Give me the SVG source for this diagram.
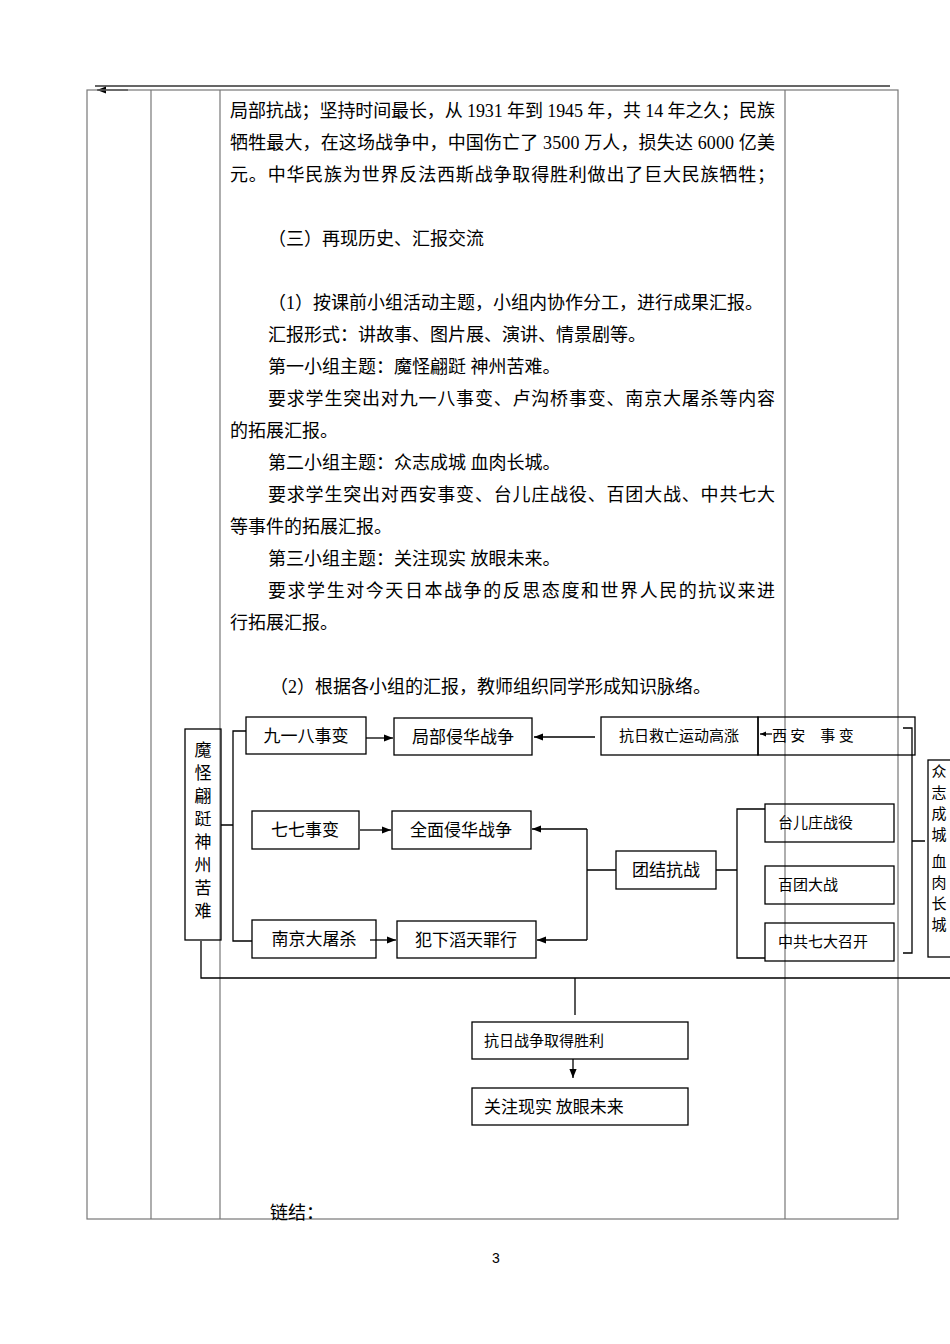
<svg xmlns="http://www.w3.org/2000/svg" width="950" height="1344" viewBox="0 0 950 1344">
<defs>
<style>
.t{font-family:"Liberation Serif","Noto Sans CJK SC",serif;font-size:18px;fill:#000}
.b{font-family:"Noto Sans CJK SC",sans-serif;font-size:17px;fill:#000}
.v{font-family:"Noto Sans CJK SC",sans-serif;font-size:15px;fill:#000}
.s{font-family:"Noto Sans CJK SC",sans-serif;font-size:15px;fill:#000}
.tl{stroke:#777;stroke-width:1.2;fill:none}
.bx{fill:none;stroke:#000;stroke-width:1.3}
.ln{stroke:#000;stroke-width:1.3;fill:none}
</style>
<marker id="a" viewBox="0 0 10 10" refX="10" refY="5" markerWidth="7" markerHeight="7" orient="auto"><path d="M0,1 L10,5 L0,9 z" fill="#000"/></marker>
<marker id="a2" viewBox="0 0 10 10" refX="10" refY="5" markerWidth="6" markerHeight="6" orient="auto" markerUnits="userSpaceOnUse"><path d="M0,1 L10,5 L0,9 z" fill="#000"/></marker>
</defs>
<g id="table">
<line x1="95" y1="86" x2="890" y2="86" stroke="#333" stroke-width="1.5"/>
<line x1="128" y1="90" x2="97" y2="90" class="ln" marker-end="url(#a)"/>
<rect x="87" y="90" width="811" height="1129" class="tl"/>
<line x1="151" y1="90" x2="151" y2="1219" class="tl"/>
<line x1="220" y1="90" x2="220" y2="1219" class="tl"/>
<line x1="785" y1="90" x2="785" y2="1219" class="tl"/>
</g>
<g id="text">
<text class="t" x="230" y="117" textLength="545">局部抗战；坚持时间最长，从 1931 年到 1945 年，共 14 年之久；民族</text>
<text class="t" x="230" y="149" textLength="545">牺牲最大，在这场战争中，中国伤亡了 3500 万人，损失达 6000 亿美</text>
<text class="t" x="230" y="181" textLength="545">元。中华民族为世界反法西斯战争取得胜利做出了巨大民族牺牲；</text>
<text class="t" x="268" y="245">（三）再现历史、汇报交流</text>
<text class="t" x="268" y="309">（1）按课前小组活动主题，小组内协作分工，进行成果汇报。</text>
<text class="t" x="268" y="341">汇报形式：讲故事、图片展、演讲、情景剧等。</text>
<text class="t" x="268" y="373">第一小组主题：魔怪翩跹 神州苦难。</text>
<text class="t" x="268" y="405" textLength="507">要求学生突出对九一八事变、卢沟桥事变、南京大屠杀等内容</text>
<text class="t" x="230" y="437">的拓展汇报。</text>
<text class="t" x="268" y="469">第二小组主题：众志成城 血肉长城。</text>
<text class="t" x="268" y="501" textLength="507">要求学生突出对西安事变、台儿庄战役、百团大战、中共七大</text>
<text class="t" x="230" y="533">等事件的拓展汇报。</text>
<text class="t" x="268" y="565">第三小组主题：关注现实 放眼未来。</text>
<text class="t" x="268" y="597" textLength="507">要求学生对今天日本战争的反思态度和世界人民的抗议来进</text>
<text class="t" x="230" y="629">行拓展汇报。</text>
<text class="t" x="270" y="693">（2）根据各小组的汇报，教师组织同学形成知识脉络。</text>
<text class="t" x="270" y="1219">链结：</text>
<text x="492" y="1263" font-family="Liberation Sans,sans-serif" font-size="14">3</text>
</g>
<g id="connectors">
<path class="ln" d="M221,825 H233 M246,731 H233 V941 H252"/>
<line class="ln" x1="366" y1="738" x2="393" y2="738" marker-end="url(#a)"/>
<line class="ln" x1="360" y1="830" x2="391" y2="830" marker-end="url(#a)"/>
<line class="ln" x1="370" y1="940" x2="396" y2="940" marker-end="url(#a)"/>
<line class="ln" x1="595" y1="737" x2="534" y2="737" marker-end="url(#a)"/>
<line class="ln" x1="772" y1="734" x2="760" y2="734" marker-end="url(#a2)"/>
<path class="ln" d="M616,870 H587 M587,829 V940"/>
<line class="ln" x1="587" y1="829" x2="532" y2="829" marker-end="url(#a)"/>
<line class="ln" x1="587" y1="940" x2="537" y2="940" marker-end="url(#a)"/>
<path class="ln" d="M716,870 H737 M765,809 H737 V958 H765"/>
<path class="ln" d="M903,728 H912 V953 H903 M912,841 H925"/>
<path class="ln" d="M201,941 V978 H950 M575,978 V1015"/>
<line class="ln" x1="573" y1="1059" x2="573" y2="1078" marker-end="url(#a)"/>
</g>
<g id="n1"><rect class="bx" x="185" y="729" width="36" height="211"/>
<text class="b" x="203" y="756" text-anchor="middle"><tspan x="203">魔</tspan><tspan x="203" dy="23">怪</tspan><tspan x="203" dy="23">翩</tspan><tspan x="203" dy="23">跹</tspan><tspan x="203" dy="23">神</tspan><tspan x="203" dy="23">州</tspan><tspan x="203" dy="23">苦</tspan><tspan x="203" dy="23">难</tspan></text></g>
<g id="n2"><rect class="bx" x="246" y="717" width="120" height="37"/><text class="b" x="306" y="742" text-anchor="middle">九一八事变</text></g>
<g id="n3"><rect class="bx" x="394" y="718" width="138" height="37"/><text class="b" x="463" y="743" text-anchor="middle">局部侵华战争</text></g>
<g id="n4"><rect class="bx" x="601" y="717" width="157" height="38"/><text class="s" x="679" y="741" text-anchor="middle">抗日救亡运动高涨</text></g>
<g id="n5"><rect class="bx" x="758" y="717" width="157" height="38"/><text class="s" x="772" y="741">西 安　事 变</text></g>
<g id="n6"><rect class="bx" x="252" y="811" width="107" height="38"/><text class="b" x="305" y="836" text-anchor="middle">七七事变</text></g>
<g id="n7"><rect class="bx" x="392" y="811" width="139" height="38"/><text class="b" x="461" y="836" text-anchor="middle">全面侵华战争</text></g>
<g id="n8"><rect class="bx" x="252" y="920" width="124" height="38"/><text class="b" x="314" y="945" text-anchor="middle">南京大屠杀</text></g>
<g id="n9"><rect class="bx" x="397" y="921" width="139" height="37"/><text class="b" x="466" y="946" text-anchor="middle">犯下滔天罪行</text></g>
<g id="n10"><rect class="bx" x="616" y="851" width="100" height="38"/><text class="b" x="666" y="876" text-anchor="middle">团结抗战</text></g>
<g id="n11"><rect class="bx" x="765" y="804" width="129" height="38"/><text class="s" x="778" y="828">台儿庄战役</text></g>
<g id="n12"><rect class="bx" x="765" y="866" width="129" height="38"/><text class="s" x="778" y="890">百团大战</text></g>
<g id="n13"><rect class="bx" x="765" y="923" width="129" height="38"/><text class="s" x="778" y="947">中共七大召开</text></g>
<g id="n14"><rect class="bx" x="928" y="760" width="24" height="197"/>
<text class="v" x="939" y="777" text-anchor="middle"><tspan x="939">众</tspan><tspan x="939" dy="21">志</tspan><tspan x="939" dy="21">成</tspan><tspan x="939" dy="21">城</tspan><tspan x="939" dy="27">血</tspan><tspan x="939" dy="21">肉</tspan><tspan x="939" dy="21">长</tspan><tspan x="939" dy="21">城</tspan></text></g>
<g id="n15"><rect class="bx" x="472" y="1022" width="216" height="37"/><text class="s" x="484" y="1046">抗日战争取得胜利</text></g>
<g id="n16"><rect class="bx" x="472" y="1088" width="216" height="37"/><text class="b" x="484" y="1113">关注现实 放眼未来</text></g>
</svg>
